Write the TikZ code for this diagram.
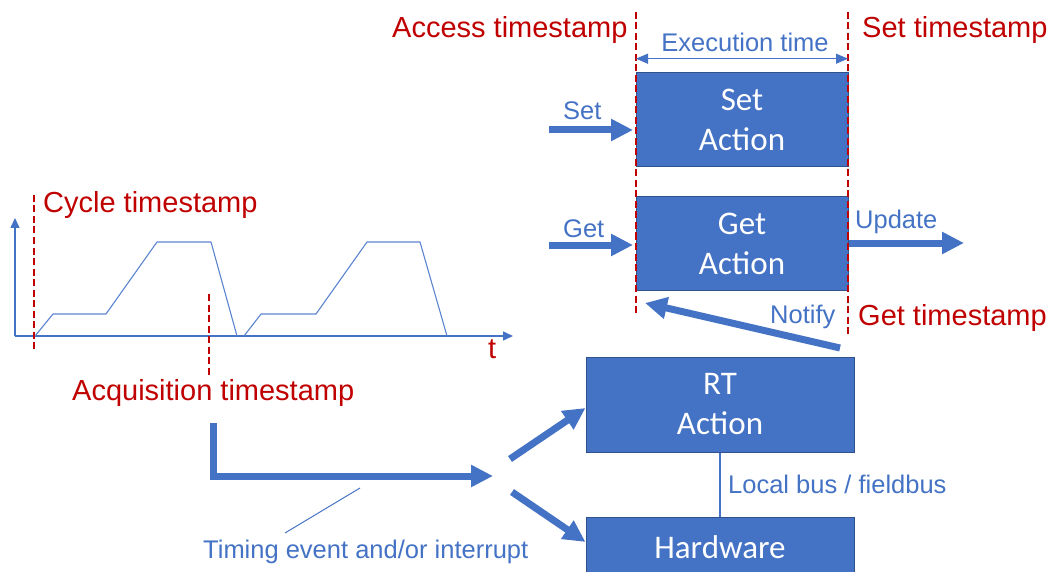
\documentclass[tikz,border=0pt]{standalone}
\usepackage{fontspec}
\setmainfont{Liberation Sans}
\newfontfamily\boxfont{Carlito}
\usetikzlibrary{arrows.meta}
\definecolor{ablue}{HTML}{4472C4}
\definecolor{aborder}{HTML}{2F528F}
\definecolor{ared}{HTML}{C00000}
\definecolor{wave}{HTML}{5B84CF}
\begin{document}
\begin{tikzpicture}[x=1pt,y=-1pt,
  box/.style={draw=aborder, line width=1pt, fill=ablue, text=white,
    font=\boxfont\fontsize{33}{40}\selectfont, align=center, inner sep=0pt},
  redlbl/.style={text=ared, font=\fontsize{29}{34}\selectfont, inner sep=0pt, anchor=base west},
  bluelbl/.style={text=ablue, font=\fontsize{25.5}{30}\selectfont, inner sep=0pt, anchor=base west},
  fat/.style={draw=ablue, line width=7pt, -{Triangle[length=22pt,width=21pt]}},
  tsline/.style={draw=ared, line width=1.4pt, dash pattern=on 7pt off 3.5pt},
  axis/.style={draw=ablue, line width=1.5pt, -{Triangle[length=10pt,width=9pt]}},
  thinblue/.style={draw=ablue, line width=1.2pt}
]
\useasboundingbox (0,0) rectangle (1052,572);
\clip (0,0) rectangle (1052,572);

% boxes
\node[box, minimum width=212pt, minimum height=94pt] (setact) at (742,119.5) {Set\\Action};
\node[box, minimum width=212pt, minimum height=94pt] (getact) at (742,243.7) {Get\\Action};
\node[box, minimum width=268pt, minimum height=95pt] (rtact) at (720,404.5) {RT\\Action};
\node[box, minimum width=268pt, minimum height=90pt, text depth=30pt, anchor=north] (hw) at (720,517) {Hardware};

% timestamp lines
\coordinate (accT) at (636,12); \coordinate (accB) at (636,313);
\coordinate (setT) at (848,12); \coordinate (setB) at (848,337);
\draw[tsline] (accT) -- (accB);
\draw[tsline] (setT) -- (setB);

% labels top
\node[redlbl] (acclbl) at (392,38) {Access timestamp};
\node[redlbl] (setlbl) at (862,38) {Set timestamp};
\node[bluelbl, anchor=base] (exlbl) at (745,52) {Execution time};
\coordinate (exL) at (636,58.7); \coordinate (exR) at (848,58.7);
\draw[thinblue, {Triangle[length=12pt,width=10pt]}-{Triangle[length=12pt,width=10pt]}] (exL) -- (exR);

% set / get / update arrows
\node[bluelbl] (setin) at (563,120) {Set};
\node[bluelbl] (getin) at (563,237) {Get};
\node[bluelbl] (upd) at (855,229) {Update};
\coordinate (setS) at (549,130); \coordinate (setE) at (633,130);
\coordinate (getS) at (549,245); \coordinate (getE) at (633,245);
\coordinate (updE) at (964,243);
\draw[fat] (setS) -- (setE);
\draw[fat] (getS) -- (getE);
\draw[fat] (getact.east |- updE) -- (updE);

% notify
\node[bluelbl] (notify) at (770,323) {Notify};
\node[redlbl] (getts) at (858,325) {Get timestamp};
\coordinate (notS) at (840,348); \coordinate (notE) at (645,303);
\draw[fat] (notS) -- (notE);

% bus
\draw[draw=ablue, line width=2.5pt] (rtact.south) -- (hw.north);
\node[bluelbl] (bus) at (728,493) {Local bus / fieldbus};

% chart
\coordinate (org) at (15,336);
\coordinate (ytop) at (15,218);
\coordinate (xend) at (513,336);
\draw[axis] (org) -- (ytop);
\draw[axis] (org) -- (xend);
\draw[wave, line width=1.1pt, line join=round]
  (35,336) -- (53,314) -- (106,314) -- (157,242) -- (211,242) -- (237,336)
  (244,336) -- (261,314) -- (316,314) -- (367,242) -- (420,242) -- (447,336);
\node[redlbl] (tlbl) at (488,358) {t};
\node[redlbl] (cyc) at (43,213) {Cycle timestamp};
\coordinate (cycT) at (34,195); \coordinate (cycB) at (34,352);
\draw[tsline] (cycT) -- (cycB);
\coordinate (acqT) at (209,294); \coordinate (acqB) at (209,375);
\draw[tsline] (acqT) -- (acqB);
\node[redlbl] (acq) at (72,400) {Acquisition timestamp};

% timing event
\coordinate (tS) at (213,423);
\coordinate (tE) at (493,476);
\draw[fat, line join=miter] (tS) |- (tE);
\coordinate (up1) at (510,459);
\coordinate (dn1) at (512,492);
\draw[fat] (up1) -- (rtact.west |- 0,408) ;
\draw[fat] (dn1) -- (hw.west |- 0,542);
\coordinate (tl1) at (285,533); \coordinate (tl2) at (360,488);
\draw[draw=ablue, line width=1pt] (tl1) -- (tl2);
\node[bluelbl] (timing) at (203,558) {Timing event and/or interrupt};
\end{tikzpicture}
\end{document}
